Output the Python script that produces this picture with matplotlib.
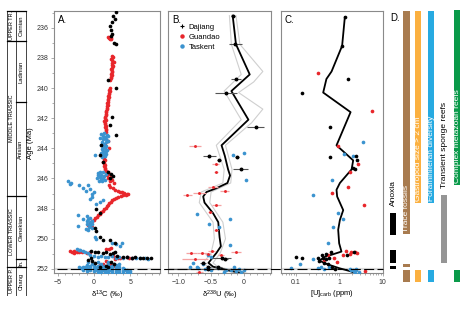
import matplotlib
matplotlib.use("Agg")
import matplotlib.pyplot as plt
from matplotlib.lines import Line2D
from matplotlib.ticker import MultipleLocator, LogLocator, NullFormatter, FixedLocator
import numpy as np

plt.rcParams['font.family'] = ['Liberation Sans', 'DejaVu Sans']
plt.rcParams['mathtext.fontset'] = 'custom'
plt.rcParams['mathtext.rm'] = 'Liberation Sans'
plt.rcParams['mathtext.it'] = 'Liberation Sans:italic'

# ---------------- DATA ----------------
# Panel A: d13C (age Ma, permil)
a_dajiang = [(234.95,3.0),(235.25,2.6),(235.45,2.85),(235.65,2.45),(235.9,2.2),(236.15,2.35),(236.4,2.5),
             (236.55,2.3),(237.0,2.7),(237.1,3.05),(239.45,1.9),(240.0,3.1),(241.9,2.5),(242.45,2.15),(243.1,3.0),
             (243.8,1.0),(244.45,0.8),(244.9,1.2),(245.6,1.9),(245.7,2.3),(245.85,2.6),(246.0,2.2),(248.0,0.3),
             (248.3,0.8),(249.3,0.1),(249.5,0.35),(249.9,0.8),(250.1,1.2),(250.1,2.2),(250.25,2.85),(250.8,-0.4),
             (250.85,0.1),(250.9,0.6),(250.95,1.2),(250.9,1.7),(251.0,2.2),(250.95,2.6),(250.9,2.9),(251.15,3.2),
             (251.2,4.0),(251.2,4.5),(251.25,5.2),(251.22,5.7),(251.27,6.3),(251.25,6.8),(251.28,7.3),(251.3,7.8),
             (251.4,-0.8),(251.3,-0.35),(251.5,-0.2),(251.6,0.1),(251.55,2.3),(251.7,2.7),(251.8,1.6),(251.9,0.9),
             (251.85,2.0)]
a_guandao = [(236.6,2.0),(236.62,2.2),(236.65,2.4),(236.7,2.1),(236.72,2.3),(236.75,2.2),
             (237.85,2.5),(237.95,2.6),(238.05,2.4),(238.15,2.55),(238.25,2.7),(238.35,2.5),(238.45,2.45),
             (238.55,2.6),(238.65,2.5),(238.75,2.35),(238.85,2.55),(238.95,2.45),(239.05,2.3),(239.15,2.5),
             (239.25,2.4),(239.35,2.35),(239.5,2.2),
             (240.0,2.2),(240.1,2.1),(240.2,2.2),(240.3,2.05),(240.4,2.1),(240.5,2.0),(240.6,2.05),(240.7,1.95),
             (240.8,2.0),(240.9,1.9),(241.0,1.85),(241.1,1.9),(241.2,1.8),(241.3,1.75),(241.4,1.8),(241.5,1.7),
             (241.6,1.65),(241.7,1.6),(241.8,1.7),(241.9,1.55),(242.0,1.5),(242.1,1.6),(242.2,1.45),(242.3,1.55),
             (242.4,1.5),(242.5,1.6),(242.6,1.55),(242.7,1.65),(242.8,1.6),(242.9,1.7),
             (243.5,2.0),(243.8,1.5),(243.95,2.1),(244.6,1.4),
             (244.7,1.4),(244.8,1.5),(244.9,1.3),(245.0,1.45),(245.1,1.5),(245.2,1.35),(245.3,1.5),(245.4,1.55),
             (245.5,1.7),(245.6,1.9),(245.7,2.1),(245.8,1.8),(245.9,2.3),(246.0,2.0),(246.1,2.5),(246.2,2.2),
             (246.3,2.7),(246.4,2.1),
             (246.55,2.2),(246.65,2.6),(246.75,2.9),(246.8,3.3),(246.87,3.6),(246.92,3.9),(246.97,4.2),(247.0,4.5),
             (247.03,4.7),(247.08,4.4),(247.12,4.0),(247.17,3.7),(247.22,3.3),(247.28,3.0),(247.35,2.7),(247.45,2.5),
             (247.55,2.3),(247.65,2.1),(247.75,2.0),(247.85,1.8),(247.95,1.6),(248.05,1.4),(248.15,1.2),(248.25,1.0),
             (248.35,0.8),(248.45,0.6),(248.55,0.4),(248.65,0.2),(248.75,0.0),(248.85,-0.2),(248.95,-0.4),
             (249.05,-0.6),(249.1,-0.8),(249.25,-0.3),
             (250.65,1.7),(250.7,2.1),(250.6,2.4),(250.8,-3.3),(250.85,-3.0),(250.8,-2.7),(250.9,-2.4),(250.85,-2.1),
             (250.95,-2.8),(250.9,-1.6),(250.95,-1.0),(250.9,-0.5),
             (251.15,2.6),(251.2,3.0),(251.25,3.3),(251.3,3.6),(251.2,4.5),(251.25,4.8),(251.3,5.2),(251.35,2.9),
             (251.5,1.7),(251.6,2.0),(251.7,2.3),(251.8,2.6),(251.85,1.9),(251.65,1.2),(251.75,0.8)]
a_taskent = [(243.0,1.4),(243.05,1.0),(243.1,1.8),(243.15,1.2),(243.2,2.0),(243.25,1.5),(243.3,0.9),(243.35,1.7),
             (243.4,1.3),(243.5,1.9),(243.55,1.1),(243.6,1.6),(243.7,1.4),(243.75,1.0),(243.85,1.7),(243.9,1.3),
             (244.0,1.5),(244.05,1.1),(244.1,1.8),(244.15,1.2),(244.2,1.6),(244.25,1.4),(244.3,1.0),(244.35,1.7),
             (244.4,1.3),(244.45,0.2),(244.5,1.5),(244.55,1.1),
             (245.55,0.9),(245.6,1.3),(245.65,0.6),(245.7,1.6),(245.75,1.0),(245.8,0.5),(245.85,1.4),(245.9,0.8),
             (245.95,1.2),(246.0,0.4),(246.05,1.0),(246.1,1.5),(246.15,0.7),(246.2,1.1),
             (246.2,-3.6),(246.35,-3.35),(246.3,-3.1),(246.45,-2.0),(246.6,-1.5),(246.4,-0.8),(246.7,-0.6),
             (246.9,0.0),(247.25,-0.2),(247.55,0.8),(247.7,0.3),(247.4,1.2),(247.35,-0.6),(246.8,-1.1),(247.0,-0.3),
             (248.4,-2.2),(249.15,-2.2),(248.7,-1.5),(248.5,-0.9),(248.6,-0.5),(248.7,-0.8),(248.8,-0.3),
             (248.85,-1.0),(248.9,-0.6),(249.0,-0.2),(249.05,-0.9),(249.1,-0.5),(249.2,-0.7),(249.3,-0.3),
             (249.35,-1.1),(249.4,-0.8),(249.9,0.1),(250.0,0.35),
             (250.25,2.5),(250.35,3.0),(250.45,3.6),(250.3,3.8),
             (250.7,-2.3),(250.75,-1.9),(250.8,-1.5),(250.85,-1.2),(250.95,-0.8),(250.75,-2.1),
             (251.1,-0.5),(251.15,0.0),(251.2,0.5),(251.12,1.0),(251.18,1.5),(251.22,2.0),(251.15,2.5),(251.25,3.0),
             (251.2,3.5),(251.28,4.0),(251.22,4.6),(251.3,5.2),(251.25,5.8),(251.3,6.4),(251.27,7.0),(251.32,7.5),
             (251.55,-0.8),(251.55,0.5),(251.55,2.0),(251.65,-0.2),(251.65,1.0),(251.65,2.8),(251.65,3.5),
             (251.75,-1.0),(251.75,0.0),(251.75,1.0),(251.75,2.0),(251.75,3.0),
             (251.8,-0.5),(251.8,0.5),(251.8,1.5),(251.8,2.5),
             (251.85,-2.0),(251.85,-1.5),(251.85,-0.5),(251.85,0.5),(251.85,1.5),(251.85,2.5),(251.85,3.5),
             (251.9,-1.2),(251.9,0.2),(251.9,1.2),(251.9,2.2),(251.9,3.2),
             (251.95,-1.8),(251.95,-1.0),(251.95,0.0),(251.95,1.0),(251.95,2.0),(251.95,3.0),(251.95,4.0),
             (252.0,-1.0),(252.0,0.3),(252.0,1.3),(252.0,2.3),(252.0,3.3),(252.0,4.2),
             (252.05,-1.5),(252.05,-0.5),(252.05,0.5),(252.05,1.5),(252.05,2.5),(252.05,3.5),(252.05,4.5),
             (252.1,-0.8),(252.1,0.2),(252.1,1.2),(252.1,2.2),(252.1,3.2),(252.1,4.2),
             (252.15,-1.0),(252.15,0.0),(252.15,1.0),(252.15,2.0),(252.15,3.0),(252.15,4.0),(252.15,5.0),
             (252.2,0.5),(252.2,1.5),(252.2,2.5),(252.2,3.5),(252.2,4.5),
             (252.25,1.0),(252.25,2.0),(252.25,3.0),(252.25,4.0),(252.25,5.0)]

# Panel B: d238U (age, value, 2sd error)
b_dajiang = [(235.2,-0.16,0.03),(237.1,-0.13,0.1),(239.4,-0.12,0.07),(240.3,-0.27,0.17),(242.6,0.18,0.13),
             (244.5,-0.53,0.1),(244.55,-0.11,0.03),(244.8,-0.38,0.03),(245.4,-0.05,0.12),(251.3,-0.34,0.14),
             (251.35,-0.29,0.05),(251.6,-0.62,0.05),(251.85,-0.54,0.04),(251.9,-0.39,0.05),(252.0,-0.55,0.6)]
b_guandao = [(243.85,-0.75,0.09),(245.05,-0.43,0.05),(245.55,-0.42,0.03),(246.55,-0.47,0.07),(246.8,-0.29,0.07),
             (246.95,-0.68,0.1),(247.1,-0.86,0.07),(247.75,-0.42,0.07),(248.25,-0.52,0.03),(249.45,-0.43,0.03),
             (250.85,-0.12,0.07),(250.95,-0.64,0.08),(250.95,-0.8,0.08),(250.8,-0.49,0.05),(251.0,-0.55,0.05),
             (251.35,-0.74,0.2),(251.05,-0.35,0.05),(252.2,-0.68,0.05)]
b_taskent = [(244.45,-0.16),(244.3,0.0),(246.1,0.04),(248.35,-0.72),(248.7,-0.21),(249.0,-0.53),(249.2,-0.38),
             (250.4,-0.21),(251.1,-0.55),(251.2,-0.5),(251.6,-0.77),(251.65,-0.62),(251.9,-0.82),(251.95,-0.7),
             (251.85,-0.72),(252.0,-0.6),(252.05,-0.5),(251.95,-0.4),(252.1,-0.27),(252.05,-0.2),(252.15,-0.12),
             (252.0,-0.07),(252.1,0.0),(252.2,-0.3),(251.9,-0.15),(252.2,-0.05)]
b_fit = [(235.2,-0.17),(237.1,-0.12),(239.1,0.09),(240.2,-0.19),(242.1,0.07),(243.8,-0.34),(244.5,-0.29),
         (245.4,-0.24),(245.8,-0.21),(246.3,-0.25),(246.65,-0.42),(246.9,-0.57),(247.2,-0.62),(247.6,-0.6),
         (248.3,-0.47),(248.9,-0.39),(249.9,-0.37),(250.5,-0.35),(250.95,-0.42),(251.6,-0.54),(251.85,-0.47),
         (252.07,-0.26),(252.3,-0.01)]
b_fit_hi = [(235.2,-0.12),(237.1,-0.06),(238.9,0.29),(239.6,0.15),(240.3,-0.08),(241.4,0.29),(242.3,0.12),
            (243.8,-0.28),(245.4,-0.18),(246.3,-0.2),(246.9,-0.5),(247.6,-0.52),(248.9,-0.32),(250.0,-0.28),
            (250.95,-0.36),(251.6,-0.47),(251.85,-0.4),(252.07,-0.18),(252.3,0.06)]
b_fit_lo = [(235.2,-0.22),(237.1,-0.19),(239.1,-0.04),(240.2,-0.3),(242.1,-0.04),(243.8,-0.42),(245.4,-0.3),
            (246.3,-0.32),(246.9,-0.65),(247.6,-0.68),(248.9,-0.47),(250.0,-0.45),(250.95,-0.5),(251.6,-0.62),
            (251.85,-0.55),(252.07,-0.33),(252.3,-0.08)]

# Panel C: [U]carb ppm (age, value)
c_dajiang = [(235.3,1.35),(237.2,1.17),(239.4,1.61),(240.3,0.137),(242.6,0.61),(244.5,2.4),(244.8,2.6),
             (244.55,0.61),(245.4,2.3),(245.3,2.1),(250.85,2.17),(250.85,0.64),(251.2,0.1),(251.3,0.14),
             (251.3,0.32),(251.25,0.42),(251.35,0.5),(251.3,0.6),(251.5,0.35),(251.6,0.45),(251.65,0.55),
             (251.9,0.7),(252.0,0.8),(251.0,0.5),(251.05,0.4),(251.1,1.5)]
c_guandao = [(239.0,0.33),(241.5,5.56),(243.85,0.95),(245.05,2.73),(245.55,1.76),(246.55,1.61),(246.95,0.67),
             (247.75,3.75),(250.8,1.43),(250.85,1.9),(250.9,2.3),(250.95,2.6),(251.0,1.8),(251.1,0.55),
             (251.4,0.45),(251.3,0.75),(251.55,0.9),(252.15,3.9),(251.1,1.2)]
c_taskent = [(243.55,3.45),(244.4,1.28),(244.5,2.03),(246.1,0.70),(247.1,0.245),(248.3,0.95),(248.7,1.24),
             (249.2,0.73),(250.3,0.56),(251.35,0.25),(251.95,0.08),(251.7,0.125),(251.95,0.32),(251.85,0.38),
             (252.0,1.8),(252.05,2.1),(252.1,2.5),(252.15,2.2),(252.2,2.8),(252.0,2.4),(252.1,1.9),(252.25,2.3),
             (251.9,0.6),(252.0,0.45)]
c_fit = [(235.3,1.35),(237.2,1.17),(238.9,0.67),(239.4,0.51),(240.3,0.43),(241.6,1.83),(243.8,0.87),
         (244.4,1.48),(244.8,2.1),(245.4,1.93),(246.3,1.04),(246.75,0.87),(247.2,0.9),(248.1,1.24),
         (248.75,1.04),(249.4,0.95),(250.3,1.0),(250.85,1.13),(251.2,0.47),(251.45,0.35),(251.7,0.55),
         (251.95,1.0),(252.15,1.8),(252.25,2.2)]

# Panel D: range bars (label, age ranges)
d_labels = ["Anoxia", "Trace fossils", "Gastropod size > 2 cm", "Foraminiferan diversity",
            "Transient sponge reefs", "Complex metazoan reefs"]
d_ranges = [[(248.29,249.75),(250.74,251.58),(251.78,252.02)],
            [(234.89,249.70),(251.69,251.87),(252.07,252.84)],
            [(234.89,247.62),(252.07,252.84)],
            [(234.89,247.62),(252.07,252.84)],
            [(247.09,251.58)],
            [(234.83,246.43),(252.07,252.84)]]

# Stratigraphy
strat_bounds = [234.89, 236.88, 240.93, 247.19, 251.34, 251.87, 253.73]
periods = [("UPPER TR.", 234.89, 236.88), ("MIDDLE TRIASSIC", 236.88, 247.19),
           ("LOWER TRIASSIC", 247.19, 251.87), ("UPPER P.", 251.87, 253.73)]
stages = [("Carnian", 234.89, 236.88), ("Ladinian", 236.88, 240.93), ("Anisian", 240.93, 247.19),
          ("Olenekian", 247.19, 251.34), ("In.", 251.34, 251.87), ("Chang", 251.87, 253.73)]
ptb_age = 252.0

# ---------------- STYLE ----------------
C_BLACK = 'black'
C_RED = '#e8262b'
C_BLUE = '#3b93cf'
SPINE = '#8a8a8a'
YLIM = (252.27, 234.89)

W, H = 470, 327
fig = plt.figure(figsize=(W/100, H/100), dpi=100)

def px_axes(l, t, r, b):
    return fig.add_axes([l/W, 1-b/H, (r-l)/W, (b-t)/H])

def style(ax):
    for s in ax.spines.values():
        s.set_color(SPINE)
        s.set_linewidth(0.8)
    ax.tick_params(which='both', direction='out', color=SPINE, width=0.5, labelsize=5,
                   labelcolor='#333333', pad=1.5)
    ax.tick_params(which='major', length=2.5)
    ax.tick_params(which='minor', length=1.5)
    ax.set_ylim(*YLIM)

axA = px_axes(54, 11, 160, 273)
axB = px_axes(168, 11, 270.7, 273)
axC = px_axes(280.5, 11, 382.7, 273)
axD = px_axes(385, 11, 470, 273)
axS = px_axes(5, 11, 27, 273)

for ax in (axA, axB, axC):
    style(ax)
    ax.axhline(ptb_age, color='#d9d9d9', lw=1.6, zorder=0)

# ---- Panel A
for data, col in ((a_guandao, C_RED), (a_taskent, C_BLUE), (a_dajiang, C_BLACK)):
    ag, v = zip(*data)
    axA.scatter(v, ag, s=7, c=col, lw=0, zorder=3)
axA.set_xlim(-5.5, 9.1)
axA.xaxis.set_major_locator(FixedLocator([-5, 0, 5]))
axA.xaxis.set_minor_locator(MultipleLocator(1))
axA.yaxis.set_major_locator(MultipleLocator(2))
axA.yaxis.set_minor_locator(MultipleLocator(1))
axA.set_xlabel('δ$^{13}$C (‰)', fontsize=5.5, labelpad=2)
fig.text(31/W, 1 - 143/H, 'Age (Ma)', rotation=90, ha='center', va='center', fontsize=5.5)
axA.text(0.04, 0.985, 'A.', transform=axA.transAxes, fontsize=7, va='top', ha='left')

# ---- Panel B
ag, v = zip(*b_fit_hi)
axB.plot(v, ag, color='#cfcfcf', lw=0.8, zorder=1)
ag, v = zip(*b_fit_lo)
axB.plot(v, ag, color='#cfcfcf', lw=0.8, zorder=1)
ag, v = zip(*b_fit)
axB.plot(v, ag, color='black', lw=1.3, zorder=2)
ag, v, e = zip(*b_dajiang)
axB.errorbar(v, ag, xerr=e, fmt='o', ms=1.8, mfc=C_BLACK, mec=C_BLACK, ecolor='#555555',
             elinewidth=0.8, capsize=0, zorder=4)
ag, v, e = zip(*b_guandao)
axB.errorbar(v, ag, xerr=e, fmt='o', ms=2.1, mfc=C_RED, mec='none', ecolor='#f5a3a3',
             elinewidth=0.9, capsize=0, zorder=3)
ag, v = zip(*b_taskent)
axB.scatter(v, ag, s=7, c=C_BLUE, lw=0, zorder=3)
axB.set_xlim(-1.157, 0.41)
axB.xaxis.set_major_locator(FixedLocator([-1.0, -0.5, 0]))
axB.xaxis.set_major_formatter(plt.FuncFormatter(lambda x, p: '0' if abs(x) < 1e-9 else f'{x:.1f}'.replace('-', '−')))
axB.xaxis.set_minor_locator(MultipleLocator(0.1))
axB.set_yticks([])
axB.set_xlabel('δ$^{238}$U (‰)', fontsize=5.5, labelpad=2)
axB.text(0.04, 0.985, 'B.', transform=axB.transAxes, fontsize=7, va='top', ha='left')
handles = [Line2D([], [], marker='+', ms=3, color=C_BLACK, lw=0, mew=0.8),
           Line2D([], [], marker='o', ms=2.2, color=C_RED, lw=0),
           Line2D([], [], marker='o', ms=2.2, color=C_BLUE, lw=0)]
axB.legend(handles, ['Dajiang', 'Guandao', 'Taskent'], loc='upper left', bbox_to_anchor=(0.06, 0.97),
           frameon=False, fontsize=5.5, handlelength=0.8, handletextpad=0.5, labelspacing=0.35,
           borderaxespad=0.2)

# ---- Panel C
ag, v = zip(*c_fit)
axC.plot(v, ag, color='black', lw=1.3, zorder=2)
for data, col in ((c_guandao, C_RED), (c_taskent, C_BLUE), (c_dajiang, C_BLACK)):
    ag, v = zip(*data)
    axC.scatter(v, ag, s=7, c=col, lw=0, zorder=3)
axC.set_xscale('log')
axC.set_xlim(0.045, 10)
axC.xaxis.set_major_locator(FixedLocator([0.1, 1, 10]))
axC.xaxis.set_major_formatter(plt.FuncFormatter(lambda x, p: f'{x:g}'))
axC.xaxis.set_minor_locator(LogLocator(base=10, subs=np.arange(2, 10)))
axC.xaxis.set_minor_formatter(NullFormatter())
axC.set_yticks([])
axC.set_xlabel('[U]$_{\\mathrm{carb}}$ (ppm)', fontsize=5.5, labelpad=2)
axC.text(0.04, 0.985, 'C.', transform=axC.transAxes, fontsize=7, va='top', ha='left')

# ---- PTB dashed line across panels
fig.canvas.draw()
yd = axA.transData.transform((0, ptb_age))[1]
yf = fig.transFigure.inverted().transform((0, yd))[1]
fig.add_artist(Line2D([57/W, 383/W], [yf, yf], transform=fig.transFigure, color='black',
                      lw=0.8, dashes=(9, 3), zorder=10))

# ---- Panel D
axD.set_xlim(385, 470)
axD.set_ylim(*YLIM)
axD.axis('off')
axD.text(390, 235.35, 'D.', fontsize=7, va='center', ha='left')
d_x = [393, 406.5, 418, 431, 444, 457]
d_col = ['black', '#a87b4f', '#fbb040', '#27aae1', '#959595', '#0a9a4a']
d_textcol = ['black', 'white', 'white', 'white', 'black', 'white']
d_inside = [False, True, True, True, False, True]
for lab, rngs, x, col, tc, inside in zip(d_labels, d_ranges, d_x, d_col, d_textcol, d_inside):
    for (a0, a1) in rngs:
        axD.bar(x, a1 - a0, bottom=a0, width=6.3, color=col, lw=0, clip_on=False)
    if inside:
        ypos = rngs[0][1] - 0.12
    else:
        ypos = rngs[0][0] - 0.45
    axD.text(x + 0.3, ypos, lab, rotation=90, ha='center', va='bottom', fontsize=6, color=tc,
             clip_on=False)

# ---- Stratigraphic column
axS.set_xlim(5, 27)
axS.set_ylim(*YLIM)
axS.axis('off')
x0, x1, x2 = 7, 15.5, 25.5
top, bot = strat_bounds[0], strat_bounds[-1]
for x in (x0, x1, x2):
    axS.plot([x, x], [top, bot], color='#444444', lw=0.7, clip_on=False)
for b in (strat_bounds[0], strat_bounds[1], strat_bounds[3], strat_bounds[5]):
    axS.plot([x0, x2], [b, b], color='black', lw=0.9, clip_on=False)
for b in (strat_bounds[2], strat_bounds[4]):
    axS.plot([x1, x2], [b, b], color='black', lw=0.9, clip_on=False)
for name, a0, a1 in periods:
    axS.text((x0 + x1) / 2 + 0.3, (a0 + a1) / 2, name, rotation=90, ha='center', va='center',
             fontsize=4, clip_on=False)
for name, a0, a1 in stages:
    axS.text((x1 + x2) / 2 + 0.3, (a0 + a1) / 2, name, rotation=90, ha='center', va='center',
             fontsize=4.2, clip_on=False)

fig.savefig('out.png', dpi=100)
